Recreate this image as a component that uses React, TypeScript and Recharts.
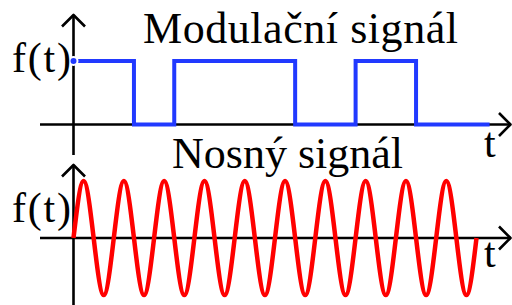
import React from 'react';
import { LineChart, Line, XAxis, YAxis, ReferenceLine } from 'recharts';

// Modulating signal: switching instants (quarter periods of the carrier) and levels
const squareT = [0, 6, 10, 22, 28, 34, 41.3];
const squareF = [1, 0, 1, 0, 1, 0, 0];

// Carrier: samples at every quarter period (zero, peak, zero, trough ...)
const carrierT = [
    0, 1, 2, 3, 4, 5, 6, 7, 8, 9, 10, 11, 12, 13, 14, 15, 16, 17, 18, 19, 20,
    21, 22, 23, 24, 25, 26, 27, 28, 29, 30, 31, 32, 33, 34, 35, 36, 37, 38, 39, 40,
];
const carrierF = [
    0, 1, 0, -1, 0, 1, 0, -1, 0, 1, 0, -1, 0, 1, 0, -1, 0, 1, 0, -1, 0,
    1, 0, -1, 0, 1, 0, -1, 0, 1, 0, -1, 0, 1, 0, -1, 0, 1, 0, -1, 0,
];

const titles = ['Modulační signál', 'Nosný signál'];
const yLabel = 'f(t)';
const xLabel = 't';

const W = 512;
const H = 305;
const FONT = '"Liberation Serif", "Times New Roman", serif';

// horizontal scale (shared by both panels)
const X0_PX = 73.5;
const X_UNIT_PX = 10.075;
const xDomain = [-X0_PX / X_UNIT_PX, (W - X0_PX) / X_UNIT_PX];
const pxToT = (px: number) => (px - X0_PX) / X_UNIT_PX;

// top panel
const TOP_H = 160;
const TOP_ZERO = 124.5;
const TOP_UNIT = 63.5;
const topDomain = [-(TOP_H - TOP_ZERO) / TOP_UNIT, TOP_ZERO / TOP_UNIT];
const topPy = (py: number) => (TOP_ZERO - py) / TOP_UNIT;

// bottom panel
const BOT_TOP = 150;
const BOT_H = H - BOT_TOP;
const BOT_ZERO = 88;
const BOT_UNIT = 57;
const botDomain = [-(BOT_H - BOT_ZERO) / BOT_UNIT, BOT_ZERO / BOT_UNIT];
const botPy = (py: number) => (BOT_ZERO - py) / BOT_UNIT;

const squareData = squareT.map((t, i) => ({ t, f: squareF[i] }));
const carrierData = carrierT.map((t, i) => ({ t, f: carrierF[i] }));

// axis line with an open arrowhead at its end point
const arrowAxis = (p: any) => {
    const { x1, y1, x2, y2 } = p;
    const len = Math.hypot(x2 - x1, y2 - y1) || 1;
    const ux = (x2 - x1) / len;
    const uy = (y2 - y1) / len;
    const s = 11.5;
    const ax = x2 - ux * s - uy * s;
    const ay = y2 - uy * s + ux * s;
    const bx = x2 - ux * s + uy * s;
    const by = y2 - uy * s - ux * s;
    return (
        <g>
            <line x1={x1} y1={y1} x2={x2} y2={y2} stroke="#000" strokeWidth={2.6} />
            <polyline
                points={`${ax},${ay} ${x2},${y2} ${bx},${by}`}
                fill="none"
                stroke="#000"
                strokeWidth={2.6}
                strokeLinejoin="round"
            />
        </g>
    );
};

const Panel: React.FC<{ height: number; domain: number[]; children: React.ReactNode; data: any[] }> = ({ height, domain, children, data }) => (
    <LineChart width={W} height={height} data={data} margin={{ top: 0, right: 0, bottom: 0, left: 0 }}>
        <XAxis dataKey="t" type="number" domain={xDomain} allowDataOverflow hide />
        <YAxis type="number" domain={domain} allowDataOverflow hide />
        {children}
    </LineChart>
);

export default function App() {
    const text = { fontFamily: FONT, fill: '#000' } as const;
    return (
        <div style={{ position: 'absolute', left: 0, top: 0, width: W, height: H, background: '#fff', overflow: 'hidden' }}>
            {/* Modulating signal */}
            <div style={{ position: 'absolute', left: 0, top: 0 }}>
                <Panel height={TOP_H} domain={topDomain} data={squareData}>
                    <ReferenceLine
                        segment={[{ x: pxToT(40), y: 0 }, { x: pxToT(510.5), y: 0 }]}
                        ifOverflow="visible"
                        shape={arrowAxis}
                    />
                    <ReferenceLine
                        segment={[{ x: 0, y: topPy(155) }, { x: 0, y: topPy(15) }]}
                        ifOverflow="visible"
                        shape={arrowAxis}
                    />
                    <Line
                        dataKey="f"
                        type="stepAfter"
                        stroke="#2139ff"
                        strokeWidth={4}
                        dot={false}
                        isAnimationActive={false}
                    />
                </Panel>
            </div>

            {/* Carrier */}
            <div style={{ position: 'absolute', left: 0, top: BOT_TOP }}>
                <Panel height={BOT_H} domain={botDomain} data={carrierData}>
                    <ReferenceLine
                        segment={[{ x: pxToT(40), y: 0 }, { x: pxToT(510.5), y: 0 }]}
                        ifOverflow="visible"
                        shape={arrowAxis}
                    />
                    <ReferenceLine
                        segment={[{ x: 0, y: botDomain[0] }, { x: 0, y: botPy(15) }]}
                        ifOverflow="visible"
                        shape={arrowAxis}
                    />
                    <Line
                        dataKey="f"
                        type="natural"
                        stroke="#ff0000"
                        strokeWidth={4.5}
                        dot={false}
                        isAnimationActive={false}
                    />
                </Panel>
            </div>

            {/* Labels */}
            <svg width={W} height={H} style={{ position: 'absolute', left: 0, top: 0, pointerEvents: 'none' }}>
                <text x={143} y={43} fontSize={44} textLength={315} lengthAdjust="spacing" {...text}>{titles[0]}</text>
                <text x={172} y={168} fontSize={44} textLength={231} lengthAdjust="spacing" {...text}>{titles[1]}</text>
                <text x={12} y={72} fontSize={42} textLength={59} lengthAdjust="spacing" {...text}>{yLabel}</text>
                <text x={12} y={222} fontSize={42} textLength={59} lengthAdjust="spacing" {...text}>{yLabel}</text>
                <text x={484} y={157} fontSize={42} {...text}>{xLabel}</text>
                <text x={484} y={267} fontSize={42} {...text}>{xLabel}</text>
            </svg>
        </div>
    );
}
